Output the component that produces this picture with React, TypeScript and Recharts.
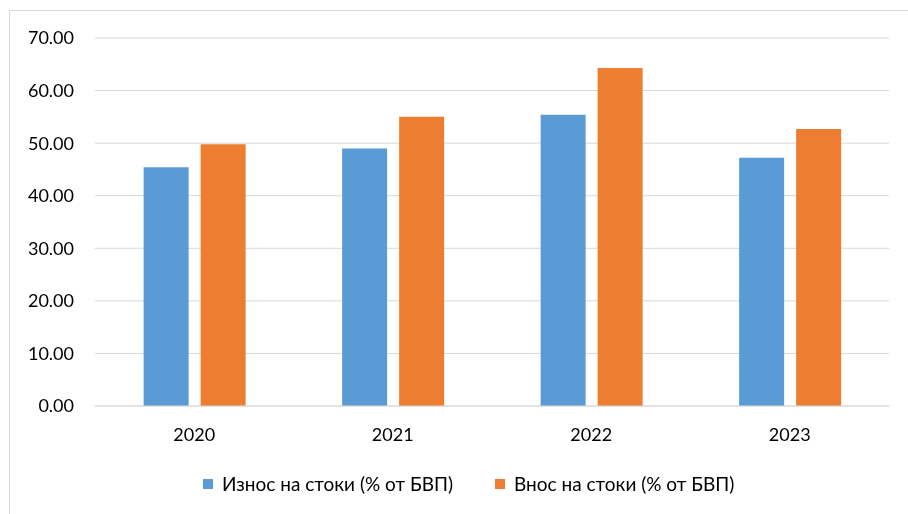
import React from "react";
import { BarChart, Bar, XAxis, YAxis, CartesianGrid, Legend } from "recharts";

const years = ["2020", "2021", "2022", "2023"];
const exportShare = [45.4, 49.0, 55.4, 47.2];
const importShare = [49.8, 55.0, 64.3, 52.7];
const yTicks = [0, 10, 20, 30, 40, 50, 60, 70];
const seriesNames = ["Износ на стоки (% от БВП)", "Внос на стоки (% от БВП)"];
const seriesColors = ["#5B9BD5", "#ED7D31"];

const data = years.map((y, i) => ({ year: y, exp: exportShare[i], imp: importShare[i] }));

const FONT = "Lato, 'Liberation Sans', sans-serif";

const LegendContent = () => {
  return (
    <div style={{ display: "flex", alignItems: "center", fontFamily: FONT, fontSize: 19, color: "#000", lineHeight: "24px" }}>
      {seriesNames.map((name, i) => (
        <div key={i} style={{ display: "flex", alignItems: "center", marginRight: i === 0 ? 42 : 0 }}>
          <span style={{ display: "inline-block", width: 10, height: 10, background: seriesColors[i], marginRight: 9 }} />
          <span>{name}</span>
        </div>
      ))}
    </div>
  );
};

export default function App() {
  return (
    <div style={{ position: "relative", width: 892, height: 498 }}>
      <div
        style={{
          position: "fixed",
          left: 9,
          top: 10,
          width: 920,
          height: 520,
          borderTop: "1px solid #d9d9d9",
          borderLeft: "1px solid #d9d9d9",
          pointerEvents: "none",
        }}
      />
      <BarChart
        width={892}
        height={498}
        data={data}
        margin={{ top: 30, right: 11, left: 0, bottom: 70 }}
        barCategoryGap="24.5%"
        barGap={12}
      >
        <CartesianGrid vertical={false} stroke="#d9d9d9" strokeWidth={1} />
        <XAxis
          dataKey="year"
          tickLine={false}
          axisLine={{ stroke: "#d9d9d9" }}
          tickSize={0}
          tickMargin={22}
          height={30}
          tick={{ fill: "#000", fontSize: 18, fontFamily: FONT }}
        />
        <YAxis
          domain={[0, 70]}
          ticks={yTicks}
          width={87}
          axisLine={false}
          tickLine={false}
          tickSize={0}
          tickMargin={21}
          tickFormatter={(v: number) => v.toFixed(2)}
          tick={{ fill: "#000", fontSize: 18, fontFamily: FONT }}
        />
        <Legend
          verticalAlign="middle"
          layout="horizontal"
          wrapperStyle={{ top: 464, left: 195, width: 620, height: 24 }}
          content={<LegendContent />}
        />
        <Bar dataKey="exp" name={seriesNames[0]} fill={seriesColors[0]} isAnimationActive={false} />
        <Bar dataKey="imp" name={seriesNames[1]} fill={seriesColors[1]} isAnimationActive={false} />
      </BarChart>
    </div>
  );
}
